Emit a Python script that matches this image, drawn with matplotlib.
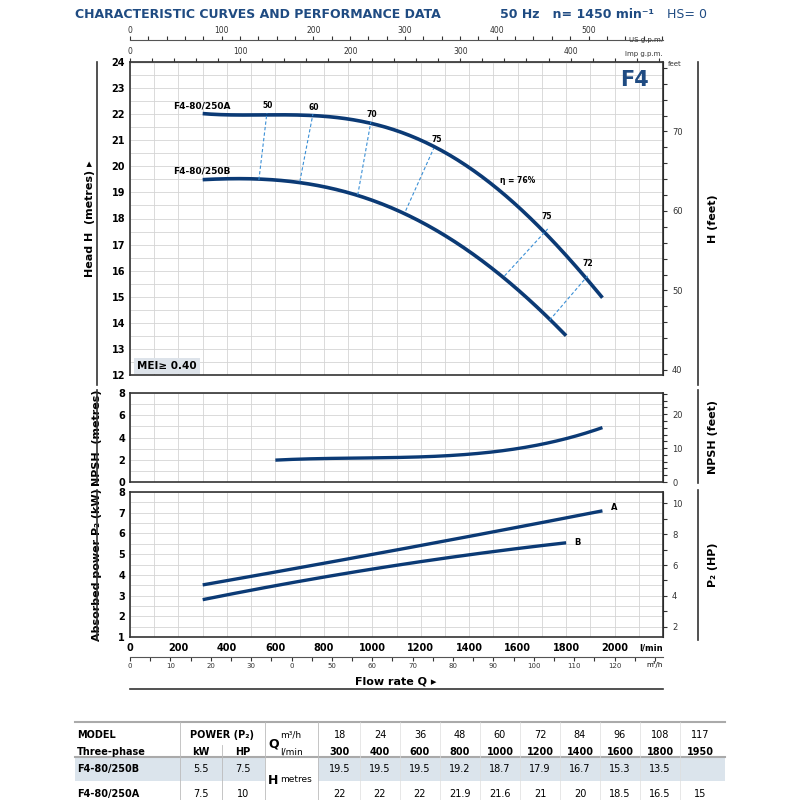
import matplotlib
matplotlib.use("Agg")
import matplotlib.pyplot as plt
import numpy as np
from matplotlib.patches import Rectangle
from matplotlib.lines import Line2D

navy = "#0b3a75"
title_c = "#1f4b82"
grid_c = "#d4d4d4"

q_lmin = [300, 400, 600, 800, 1000, 1200, 1400, 1600, 1800, 1950]
q_m3h = [18, 24, 36, 48, 60, 72, 84, 96, 108, 117]
head_A = [22, 22, 22, 21.9, 21.6, 21, 20, 18.5, 16.5, 15]
head_B = [19.5, 19.5, 19.5, 19.2, 18.7, 17.9, 16.7, 15.3, 13.5]
q_B = q_lmin[:9]

npsh_q = [600, 800, 1000, 1200, 1400, 1600, 1800, 1950]
npsh_v = [2.0, 2.05, 2.15, 2.3, 2.55, 3.0, 3.8, 4.95]

powA_q = [300, 800, 1300, 1950]
powA = [3.5, 4.6, 5.6, 7.1]
powB_q = [300, 800, 1300, 1800]
powB = [2.8, 3.9, 4.8, 5.55]

eff_labels = ["50", "60", "70", "75", "75", "72"]
eff_qA = [565, 755, 994, 1254, 1724, 1889]
eff_hA = [22.04, 22.0, 21.7, 20.7, 17.6, 15.8]
eff_qB = [532, 701, 940, 1138, 1546, 1732]
eff_hB = [19.48, 19.42, 18.9, 18.3, 15.8, 14.1]

def smooth(ax, xs, ys, deg, **kw):
    xs = np.asarray(xs, float); ys = np.asarray(ys, float)
    c = np.polyfit(xs, ys, deg)
    xx = np.linspace(xs[0], xs[-1], 200)
    ax.plot(xx, np.polyval(c, xx), **kw)

fig = plt.figure(figsize=(8, 8), dpi=100)
L, W = 130/800, 533/800
XMAX = 2198

def setup(ax, ymin, ymax, minor):
    ax.set_xlim(0, XMAX)
    ax.set_ylim(ymin, ymax)
    ax.set_xticks(np.arange(0, 2201, 100), minor=True)
    ax.set_yticks(np.arange(ymin, ymax + 0.01, minor), minor=True)
    ax.grid(True, which="both", color=grid_c, lw=0.6)
    ax.set_axisbelow(True)
    ax.tick_params(which="both", length=0, labelsize=7)
    for s in ax.spines.values():
        s.set_color("#333333"); s.set_lw(1.2)
    for t in ax.get_yticklabels():
        t.set_fontweight("bold")

# Top head panel
ax1 = fig.add_axes([L, 1-375/800, W, 313/800])
ax1.set_yticks(range(12, 25))
ax1.set_xticks(np.arange(0, 2201, 200))
ax1.set_xticklabels([])
setup(ax1, 12, 24, 0.5)
smooth(ax1, q_lmin, head_A, 4, color=navy, lw=2.6, solid_capstyle="butt")
smooth(ax1, q_B, head_B, 4, color=navy, lw=2.6, solid_capstyle="butt")
for lab, xa, ya, xb, yb in zip(eff_labels, eff_qA, eff_hA, eff_qB, eff_hB):
    ax1.plot([xb, xa], [yb, ya], color="#3a8fd6", lw=0.8, ls=(0, (3, 2)))
lab_pos = [(570, 22.15), (760, 22.1), (1000, 21.8), (1265, 20.85), (1720, 17.9), (1890, 16.1)]
for lab, (x, y) in zip(eff_labels, lab_pos):
    ax1.text(x, y, lab, fontsize=5.5, fontweight="bold", ha="center", va="bottom")
ax1.text(1600, 19.35, "η = 76%", fontsize=5.5, fontweight="bold", ha="center")
ax1.text(180, 22.15, "F4-80/250A", fontsize=6.5, fontweight="bold", ha="left", va="bottom")
ax1.text(180, 19.65, "F4-80/250B", fontsize=6.5, fontweight="bold", ha="left", va="bottom")
ax1.text(2140, 23.3, "F4", fontsize=15, fontweight="bold", color=title_c, ha="right", va="center")
ax1.text(30, 12.35, "MEI≥ 0.40", fontsize=7.5, fontweight="bold", va="center",
         bbox=dict(boxstyle="square,pad=0.3", fc="#dde3ea", ec="none"))
ax1.set_ylabel("Head H  (metres) ▸", fontsize=8, fontweight="bold", labelpad=12)
r1 = ax1.secondary_yaxis("right", functions=(lambda m: m*3.2808, lambda f: f/3.2808))
r1.set_yticks(np.arange(40, 79, 2))
r1.set_yticklabels([str(v) if v % 10 == 0 else "" for v in range(40, 79, 2)])
r1.tick_params(labelsize=6, length=3, colors="#333333")
r1.set_ylabel("H (feet)", fontsize=8, fontweight="bold", labelpad=18)
fig.text(668/800, 1-66/800, "feet", fontsize=5, color="#333333")
t_imp = ax1.secondary_xaxis("top", functions=(lambda q: q/4.546, lambda g: g*4.546))
t_imp.set_xticks(np.arange(0, 481, 20))
t_imp.set_xticklabels([str(v) if v % 100 == 0 else "" for v in range(0, 481, 20)])
t_imp.tick_params(labelsize=5.5, length=3, colors="#333333", pad=1)
t_us = ax1.secondary_xaxis(1.07, functions=(lambda q: q/3.785, lambda g: g*3.785))
t_us.set_xticks(np.arange(0, 581, 20))
t_us.set_xticklabels([str(v) if v % 100 == 0 else "" for v in range(0, 581, 20)])
t_us.tick_params(labelsize=5.5, length=3, colors="#333333", pad=1)
t_us.spines["top"].set_color("#555555")
fig.text(663/800, 1-42/800, "US g.p.m.", fontsize=5, ha="right", color="#333333")
fig.text(663/800, 1-56/800, "Imp g.p.m.", fontsize=5, ha="right", color="#333333")

# NPSH
ax2 = fig.add_axes([L, 1-482/800, W, 89/800])
ax2.set_yticks(range(0, 9, 2))
ax2.set_xticks(np.arange(0, 2201, 200)); ax2.set_xticklabels([])
setup(ax2, 0, 8, 1)
smooth(ax2, npsh_q, npsh_v, 3, color=navy, lw=2.4, solid_capstyle="butt")
ax2.set_ylabel("NPSH  (metres)", fontsize=8, fontweight="bold", labelpad=12)
r2 = ax2.secondary_yaxis("right", functions=(lambda m: m*3.2808, lambda f: f/3.2808))
r2.set_yticks(np.arange(0, 27, 2))
r2.set_yticklabels([str(v) if v % 10 == 0 else "" for v in range(0, 27, 2)])
r2.tick_params(labelsize=6, length=3, colors="#333333")
r2.set_ylabel("NPSH (feet)", fontsize=8, fontweight="bold", labelpad=18)

# Power
ax3 = fig.add_axes([L, 1-637/800, W, 145/800])
ax3.set_yticks(range(1, 9))
ax3.set_xticks(np.arange(0, 2001, 200))
setup(ax3, 1, 8, 0.5)
ax3.set_xticklabels([str(v) for v in range(0, 2001, 200)], fontweight="bold", fontsize=7)
ax3.tick_params(axis="x", pad=4)
smooth(ax3, powA_q, powA, 2, color=navy, lw=2.4, solid_capstyle="butt")
smooth(ax3, powB_q, powB, 2, color=navy, lw=2.4, solid_capstyle="butt")
ax3.text(1985, 7.15, "A", fontsize=6, fontweight="bold")
ax3.text(1835, 5.45, "B", fontsize=6, fontweight="bold")
ax3.set_ylabel("Absorbed power P₂ (kW)", fontsize=8, fontweight="bold", labelpad=12)
r3 = ax3.secondary_yaxis("right", functions=(lambda k: k*1.341, lambda h: h/1.341))
r3.set_yticks(np.arange(2, 11, 1))
r3.set_yticklabels([str(v) if v % 2 == 0 else "" for v in range(2, 11)])
r3.tick_params(labelsize=6, length=3, colors="#333333")
r3.set_ylabel("P₂ (HP)", fontsize=8, fontweight="bold", labelpad=18)
fig.text(663/800, 1-648/800, "l/min", fontsize=6, fontweight="bold", ha="right", va="center")
b3 = ax3.secondary_xaxis(-0.14, functions=(lambda q: q*0.06, lambda m: m/0.06))
b3.set_xticks(np.arange(0, 131, 5))
labs = []
for v in range(0, 131, 5):
    labs.append(("0" if v == 40 else str(v)) if v % 10 == 0 and v <= 120 else "")
b3.set_xticklabels(labs)
b3.tick_params(labelsize=5, length=3, colors="#333333", pad=1)
b3.spines["bottom"].set_color("#555555")
fig.text(663/800, 1-664/800, "m³/h", fontsize=5, ha="right", va="center")
fig.text(396/800, 1-682/800, "Flow rate Q ▸", fontsize=8, fontweight="bold", ha="center", va="center")
fig.add_artist(Line2D([130/800, 663/800], [1-689/800]*2, color="#333333", lw=1.2))

for x in (97/800, 698/800):
    fig.add_artist(Line2D([x, x], [1-62/800, 1-385/800], color="#333333", lw=1.2))
    fig.add_artist(Line2D([x, x], [1-390/800, 1-483/800], color="#333333", lw=1.2))
    fig.add_artist(Line2D([x, x], [1-490/800, 1-640/800], color="#333333", lw=1.2))

# Title
fig.text(75/800, 1-14/800, "CHARACTERISTIC CURVES AND PERFORMANCE DATA", fontsize=9,
         fontweight="bold", color=title_c, va="center")
fig.text(500/800, 1-14/800, "50 Hz   n= 1450 min⁻¹", fontsize=9, fontweight="bold",
         color=title_c, va="center")
fig.text(667/800, 1-14/800, "HS= 0", fontsize=9, color=title_c, va="center")

# Table
def Y(p): return 1 - p/800
def X(p): return p/800
fig.add_artist(Rectangle((X(75), Y(781)), X(190), Y(758)-Y(781), transform=fig.transFigure, fc="#dbe4ec", ec="none"))
fig.add_artist(Rectangle((X(318), Y(781)), X(407), Y(758)-Y(781), transform=fig.transFigure, fc="#dbe4ec", ec="none"))
fig.add_artist(Line2D([X(75), X(725)], [Y(722)]*2, color="#aaaaaa", lw=1.5))
fig.add_artist(Line2D([X(75), X(725)], [Y(757)]*2, color="#aaaaaa", lw=1.5))
for xv, y0, y1 in [(180, 722, 800), (222, 745, 800), (265, 722, 800), (318, 722, 800)]:
    fig.add_artist(Line2D([X(xv)]*2, [Y(y0), Y(y1)], color="#bbbbbb", lw=0.6))
for i in range(1, 10):
    xv = 320 + 40*i
    fig.add_artist(Line2D([X(xv)]*2, [Y(722), Y(800)], color="#dddddd", lw=0.5))
tk = dict(fontsize=7, va="center")
fig.text(X(77), Y(735), "MODEL", fontweight="bold", **tk)
fig.text(X(77), Y(752), "Three-phase", fontweight="bold", **tk)
fig.text(X(222), Y(735), "POWER (P₂)", fontweight="bold", ha="center", **tk)
fig.text(X(201), Y(752), "kW", fontweight="bold", ha="center", **tk)
fig.text(X(243), Y(752), "HP", fontweight="bold", ha="center", **tk)
fig.text(X(268), Y(744), "Q", fontweight="bold", fontsize=9, va="center")
fig.text(X(280), Y(735), "m³/h", fontsize=6.5, va="center")
fig.text(X(280), Y(752), "l/min", fontsize=6.5, va="center")
fig.text(X(268), Y(780), "H", fontweight="bold", fontsize=9, va="center")
fig.text(X(280), Y(780), "metres", fontsize=6.5, va="center")
for i, (m, l) in enumerate(zip(q_m3h, q_lmin)):
    xc = X(340 + 40*i)
    fig.text(xc, Y(735), str(m), ha="center", **tk)
    fig.text(xc, Y(752), str(l), ha="center", fontweight="bold", **tk)
    if i < len(head_B):
        fig.text(xc, Y(769), f"{head_B[i]:g}", ha="center", **tk)
    fig.text(xc, Y(794), f"{head_A[i]:g}", ha="center", **tk)
fig.text(X(77), Y(769), "F4-80/250B", fontweight="bold", **tk)
fig.text(X(201), Y(769), "5.5", ha="center", **tk)
fig.text(X(243), Y(769), "7.5", ha="center", **tk)
fig.text(X(77), Y(794), "F4-80/250A", fontweight="bold", **tk)
fig.text(X(201), Y(794), "7.5", ha="center", **tk)
fig.text(X(243), Y(794), "10", ha="center", **tk)

fig.savefig("out.png", dpi=100)
